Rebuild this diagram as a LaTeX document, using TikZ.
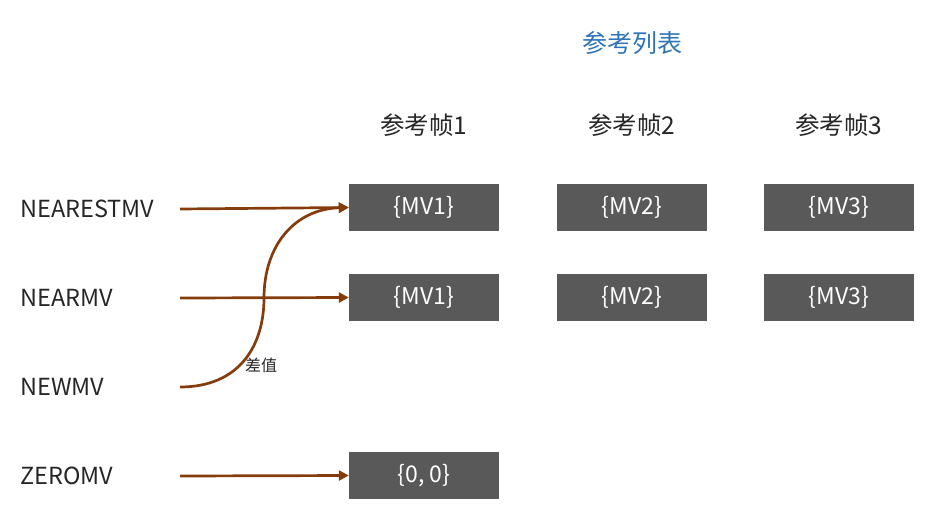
\documentclass[tikz,border=0pt]{standalone}
\usepackage{fontspec}
\setmainfont{Noto Sans CJK SC}
\usetikzlibrary{arrows.meta}
\definecolor{arrbrown}{HTML}{843C0C}
\definecolor{boxgray}{HTML}{595959}
\definecolor{titleblue}{HTML}{2E75B6}
\tikzset{
  mvbox/.style={fill=boxgray, draw=none, minimum width=150pt, minimum height=47pt, inner sep=0pt, text=white, font=\fontsize{23}{26}\selectfont},
  lbl/.style={anchor=west, inner sep=0pt, font=\fontsize{23.5}{27}\selectfont, text=black!85},
  hdr/.style={inner sep=0pt, font=\fontsize{24.5}{28}\selectfont, text=black!85},
  arr/.style={draw=arrbrown, line width=2.7pt, -{Triangle[length=10pt,width=10pt]}},
}
\begin{document}
\begin{tikzpicture}[x=1pt,y=-1pt]
\useasboundingbox (0,0) rectangle (931,511);
\node[font=\fontsize{25}{29}\selectfont, text=titleblue, inner sep=0pt] (title) at (632,43) {参考列表};
\node[hdr] (h1) at (424,125) {参考帧1};
\node[hdr] (h2) at (632,125) {参考帧2};
\node[hdr] (h3) at (839,125) {参考帧3};
\node[mvbox] (a1) at (424,207.5) {\{MV1\}};
\node[mvbox] (a2) at (632,207.5) {\{MV2\}};
\node[mvbox] (a3) at (839,207.5) {\{MV3\}};
\node[mvbox] (b1) at (424,297.5) {\{MV1\}};
\node[mvbox] (b2) at (632,297.5) {\{MV2\}};
\node[mvbox] (b3) at (839,297.5) {\{MV3\}};
\node[mvbox] (c1) at (424,475.5) {\{0, 0\}};
\node[lbl] (l1) at (20,209) {NEARESTMV};
\node[lbl] (l2) at (20,298) {NEARMV};
\node[lbl] (l3) at (20,387) {NEWMV};
\node[lbl] (l4) at (20,476) {ZEROMV};
\coordinate (s1) at (180,209);
\coordinate (s2) at (180,298);
\coordinate (s3) at (180,387);
\coordinate (s4) at (180,476);
\draw[arr] (s1) -- (a1.west);
\draw[arr] (s2) -- (b1.west);
\draw[arr] (s4) -- (c1.west);
\draw[arr] (s3) .. controls (240,387) and (264,345) .. (264,298)
  .. controls (264,245) and (295,209) .. (a1.west);
\node[font=\fontsize{16}{18}\selectfont, inner sep=0pt, text=black!85] (diff) at (261,365) {差值};
\end{tikzpicture}
\end{document}
